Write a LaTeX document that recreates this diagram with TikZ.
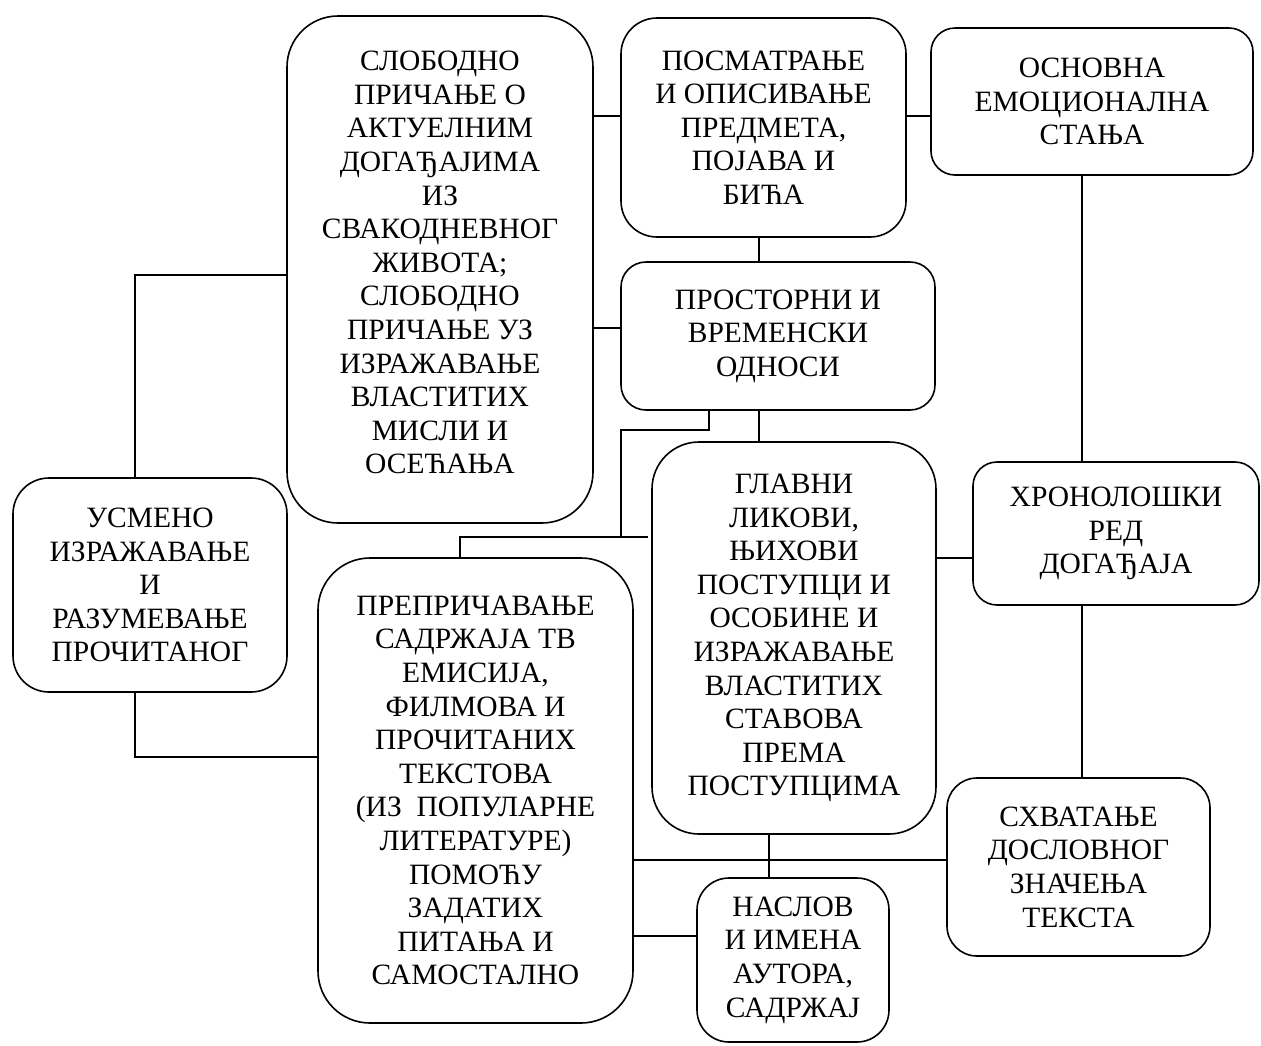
\documentclass[tikz,border=0pt]{standalone}
\usepackage{fontspec}
\setmainfont{Liberation Serif}
\newcommand{\bxfont}{\fontsize{29.5}{33.6}\selectfont}
\begin{document}
\begin{tikzpicture}[x=1pt,y=-1pt,
  box/.style={draw, line width=1.6pt, inner sep=0pt, align=center, font=\bxfont},
  conn/.style={line width=1.6pt}]
\useasboundingbox (0,0) rectangle (1261,1045);

\node[box, minimum width=306pt, minimum height=507pt, rounded corners=51pt] (slob) at (440,269.5)
 {СЛОБОДНО\\ПРИЧАЊЕ О\\АКТУЕЛНИМ\\ДОГАЂАЈИМА\\ИЗ\\СВАКОДНЕВНОГ\\ЖИВОТА;\\СЛОБОДНО\\ПРИЧАЊЕ УЗ\\ИЗРАЖАВАЊЕ\\ВЛАСТИТИХ\\МИСЛИ И\\ОСЕЋАЊА\\[-19.6pt]};
\node[box, minimum width=285pt, minimum height=219pt, rounded corners=36pt] (posm) at (763.5,127.5)
 {ПОСМАТРАЊЕ\\И ОПИСИВАЊЕ\\ПРЕДМЕТА,\\ПОЈАВА И\\БИЋА};
\node[box, minimum width=322pt, minimum height=147pt, rounded corners=24pt] (osn) at (1092,101.5)
 {ОСНОВНА\\ЕМОЦИОНАЛНА\\СТАЊА};
\node[box, minimum width=314pt, minimum height=148pt, rounded corners=25pt] (prost) at (778,336)
 {ПРОСТОРНИ И\\ВРЕМЕНСКИ\\ОДНОСИ};
\node[box, minimum width=284pt, minimum height=392pt, rounded corners=47pt] (glav) at (794,638)
 {ГЛАВНИ\\ЛИКОВИ,\\ЊИХОВИ\\ПОСТУПЦИ И\\ОСОБИНЕ И\\ИЗРАЖАВАЊЕ\\ВЛАСТИТИХ\\СТАВОВА\\ПРЕМА\\ПОСТУПЦИМА};
\node[box, minimum width=286pt, minimum height=143pt, rounded corners=24pt] (hron) at (1116,533.5)
 {ХРОНОЛОШКИ\\РЕД\\ДОГАЂАЈА};
\node[box, minimum width=274pt, minimum height=214pt, rounded corners=36pt] (usm) at (150,585)
 {УСМЕНО\\ИЗРАЖАВАЊЕ\\И\\РАЗУМЕВАЊЕ\\ПРОЧИТАНОГ};
\node[box, minimum width=315pt, minimum height=465pt, rounded corners=52pt] (prep) at (475.5,790.5)
 {ПРЕПРИЧАВАЊЕ\\САДРЖАЈА ТВ\\ЕМИСИЈА,\\ФИЛМОВА И\\ПРОЧИТАНИХ\\ТЕКСТОВА\\(ИЗ \ ПОПУЛАРНЕ\\ЛИТЕРАТУРЕ)\\ПОМОЋУ\\ЗАДАТИХ\\ПИТАЊА И\\САМОСТАЛНО};
\node[box, minimum width=263pt, minimum height=178pt, rounded corners=30pt] (shv) at (1078.5,867)
 {СХВАТАЊЕ\\ДОСЛОВНОГ\\ЗНАЧЕЊА\\ТЕКСТА};
\node[box, minimum width=192pt, minimum height=164pt, rounded corners=32pt] (nasl) at (793,960)
 {НАСЛОВ\\И ИМЕНА\\АУТОРА,\\САДРЖАЈ};

% connectors
\draw[conn] (slob.east |- 0,116) -- (posm.west |- 0,116);
\draw[conn] (slob.east |- 0,328) -- (prost.west |- 0,328);
\draw[conn] (posm.east |- 0,116) -- (osn.west |- 0,116);
\draw[conn] (posm.south -| 759,0) -- (prost.north -| 759,0);
\draw[conn] (prost.south -| 759,0) -- (glav.north -| 759,0);
\draw[conn] (osn.south -| 1082,0) -- (hron.north -| 1082,0);
\draw[conn] (hron.south -| 1082,0) -- (shv.north -| 1082,0);
\draw[conn] (glav.east |- 0,558) -- (hron.west |- 0,558);

\coordinate (k1) at (709,430);
\coordinate (k2) at (621,430);
\coordinate (k3) at (621,537);
\coordinate (k4) at (460,537);
\coordinate (k5) at (648,537);
\draw[conn] (prost.south -| k1) -- (k1) -- (k2) -- (k3);
\draw[conn] (k5) -- (k4) -- (prep.north -| k4);

\coordinate (u1) at (135,275);
\coordinate (u2) at (135,757);
\draw[conn] (slob.west |- u1) -- (u1) -- (usm.north -| u1);
\draw[conn] (usm.south -| u2) -- (u2) -- (prep.west |- u2);

\draw[conn] (prep.east |- 0,860) -- (shv.west |- 0,860);
\draw[conn] (glav.south -| 769,0) -- (nasl.north -| 769,0);
\draw[conn] (prep.east |- 0,936) -- (nasl.west |- 0,936);
\end{tikzpicture}
\end{document}
